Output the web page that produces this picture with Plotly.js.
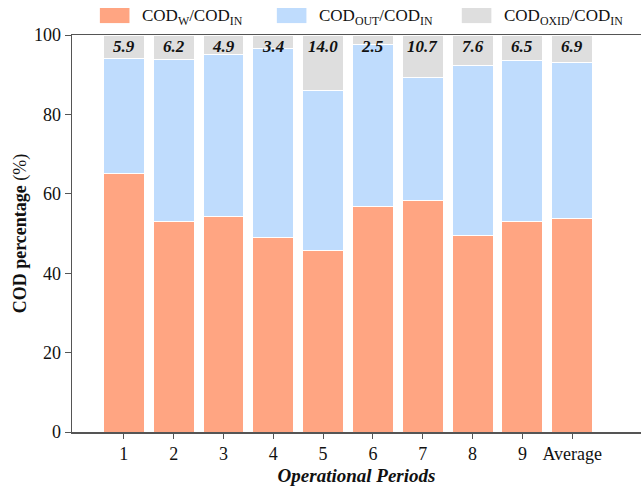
<!DOCTYPE html>
<html><head><meta charset="utf-8">
<script src="https://cdn.plot.ly/plotly-3.0.1.min.js"></script>
<style>html,body{margin:0;padding:0;background:#fff}</style>
</head><body>
<div id="chart" style="width:641px;height:486px"></div>
<script>
const periods = ["1","2","3","4","5","6","7","8","9","Average"];
const seriesNames = ["COD<sub>W</sub>/COD<sub>IN</sub>", "COD<sub>OUT</sub>/COD<sub>IN</sub>", "COD<sub>OXID</sub>/COD<sub>IN</sub>"];
const seriesColors = ["#FFA582", "#BFDCFD", "#DEDEDE"];
const codW = [65.0, 52.9, 54.4, 48.9, 45.8, 56.7, 58.4, 49.6, 53.1, 53.9];
const codOut = [29.1, 40.9, 40.7, 47.7, 40.2, 40.8, 30.9, 42.8, 40.4, 39.2];
const codOxid = [5.9, 6.2, 4.9, 3.4, 14.0, 2.5, 10.7, 7.6, 6.5, 6.9];
const labelY = 97;

const font = "Liberation Serif";
const values = [codW, codOut, codOxid];
const traces = values.map((v,k)=>({
  type:"bar", name:seriesNames[k], x:periods, y:v,
  marker:{color:seriesColors[k], line:{color:"#fff", width:1}}
}));
const annotations = periods.map((p,i)=>({
  x:i, y:labelY, xref:"x", yref:"y", text:"<b><i>"+codOxid[i].toFixed(1)+"</i></b>",
  showarrow:false, font:{family:font, size:17, color:"#111"}
}));
// legend drawn as swatches + labels above the plot
const legX = [0.049, 0.36, 0.685];
const shapes = [];
legX.forEach((lx,k)=>{
  shapes.push({type:"rect", xref:"paper", yref:"paper", x0:lx, x1:lx+0.052, y0:1.030, y1:1.068,
    fillcolor:seriesColors[k], line:{width:0}});
  annotations.push({xref:"paper", yref:"paper", x:lx+0.07, y:1.046, xanchor:"left", yanchor:"middle",
    text:seriesNames[k], showarrow:false, font:{family:font, size:17, color:"#111"}});
});
const layout = {
  width:641, height:486,
  margin:{l:72, r:0, t:35, b:54},
  barmode:"stack", bargap:0.18,
  paper_bgcolor:"#fff", plot_bgcolor:"#fff",
  font:{family:font, size:16, color:"#111"},
  showlegend:false,
  xaxis:{type:"category", range:[-1.04, 10.38], showline:true, linecolor:"#555", linewidth:1.5, mirror:true,
    ticks:"outside", ticklen:5, tickcolor:"#555", tickfont:{family:font, size:18},
    title:{text:"<b><i>Operational Periods</i></b>", font:{family:font, size:19}, standoff:10}},
  yaxis:{range:[0,100], dtick:20, showline:true, linecolor:"#555", linewidth:1.5, showgrid:false, zeroline:false,
    ticks:"outside", ticklen:6, tickcolor:"#555", tickfont:{family:font, size:18},
    title:{text:"<b>COD percentage</b> (%)", font:{family:font, size:18}, standoff:2}},
  shapes:shapes,
  annotations:annotations
};
Plotly.newPlot("chart", traces, layout, {displayModeBar:false, staticPlot:true});
</script>
</body></html>
